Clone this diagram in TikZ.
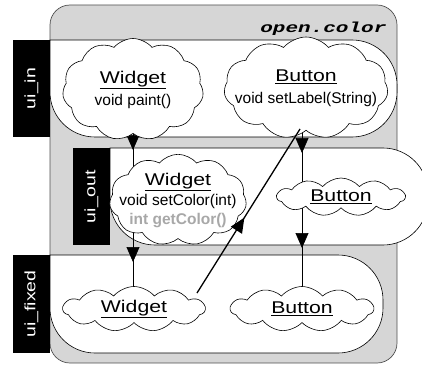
\documentclass[tikz,border=0pt]{standalone}
\usepackage{fontspec}
\setmainfont{Liberation Sans}
\newfontfamily\namefont[FakeStretch=1.25]{Liberation Sans}
\newfontfamily\tabfont[FakeStretch=1.3]{Liberation Sans}
\newfontfamily\pkgfont[FakeStretch=1.45]{Liberation Mono}
\usepackage{xcolor}
\usetikzlibrary{shapes.symbols,decorations.markings,arrows.meta}

\definecolor{boxgrey}{HTML}{D6D6D6}
\definecolor{boxedge}{HTML}{505050}
\definecolor{methgrey}{HTML}{A8A8A8}

\newcommand{\cname}[1]{{\namefont\fontsize{17}{19}\selectfont\underline{#1}}}
\newcommand{\cmeth}{\fontsize{15.5}{19}\selectfont}

\pgfdeclarelayer{back}
\pgfdeclarelayer{front}
\pgfsetlayers{back,main,front}

\begin{document}
\begin{tikzpicture}
      [ x=1pt, y=-1pt
      , band/.style={draw=black, fill=white, line width=0.6pt}
      , tab/.style={fill=black, text=white, rotate=90, inner sep=0pt,
                    font=\tabfont\fontsize{15}{15}\selectfont}
      , cls/.style={cloud, cloud puffs=11, cloud puff arc=100, cloud ignores aspect,
                    draw, fill=white, line width=0.6pt, align=center, inner sep=0pt,
                    font=\cmeth}
      , flow/.style={draw, line width=0.7pt}
      , tipat/.style={postaction={decorate}, decoration={markings,
                    mark=at position #1 with {\arrow{Triangle[length=15pt,width=13pt]}}}}
      ]
    \useasboundingbox (0,0) rectangle (422,366);

    \begin{pgfonlayer}{back}
    \draw[fill=boxgrey, draw=boxedge, line width=0.7pt, rounded corners=20]
      (50,5) rectangle (397,363);

    % layers
    \draw[band] (50,40) [rounded corners=45] -- (397,40) -- (397,137)
      -- (50,137) [sharp corners] -- cycle;
    \draw[band] (110,148) [rounded corners=45] -- (428,148) -- (428,245)
      -- (110,245) [sharp corners] -- cycle;
    \draw[band] (50,255) [rounded corners=45] -- (383,255) -- (383,353)
      -- (50,353) [sharp corners] -- cycle;
    \end{pgfonlayer}

    \node[anchor=base east, font=\pkgfont\bfseries\itshape\fontsize{14.5}{15}\selectfont]
      (pkg) at (390,33) {open.color};

    \node[tab, minimum width=97, minimum height=37] (tin) at (31.5,88.5) {ui\_in};
    \node[tab, minimum width=97, minimum height=37] (tout) at (91.5,196.5) {ui\_out};
    \node[tab, minimum width=98, minimum height=37] (tfix) at (31.5,304) {ui\_fixed};

    \begin{pgfonlayer}{front}
    \node[cls, minimum width=141, minimum height=102] (Win) at (133,89.5)
      {\cname{Widget}\\[3pt] void paint()};
    \node[cls, minimum width=164, minimum height=102, inner xsep=-14pt] (Bin) at (306,88)
      {\cname{Button}\\[3pt] void setLabel(String)};
    \node[cls, minimum width=137, minimum height=85, inner xsep=-12pt] (Wout) at (178,200)
      {\cname{Widget}\\[1pt] void setColor(int)\\ \bfseries\color{methgrey}int getColor()};
    \node[cls, minimum width=128, minimum height=38, inner ysep=-4pt] (Bout) at (341,197)
      {\cname{Button}};
    \node[cls, minimum width=142, minimum height=45, inner ysep=-4pt] (Wfix) at (134,309)
      {\cname{Widget}};
    \node[cls, minimum width=143, minimum height=45, inner ysep=-4pt] (Bfix) at (302,309)
      {\cname{Button}};

    \draw[flow, line width=1.3pt, tipat=0.46]
      ([shift={(63,-16)}]Wfix.center) -- ([shift={(-6,41)}]Bin.center);
    \end{pgfonlayer}

    \draw[flow, tipat=60.5pt] (Win.center) -- (Win.center |- Wout.center);
    \draw[flow, tipat=62pt] (Win.center |- Wout.center) -- (Win.center |- Wfix.center);
    \draw[flow, tipat=65pt] (Bfix.center |- Bin.center) -- (Bfix.center |- Bout.center);
    \draw[flow, tipat=51pt] (Bfix.center |- Bout.center) -- (Bfix.center);
  \end{tikzpicture}
\end{document}
